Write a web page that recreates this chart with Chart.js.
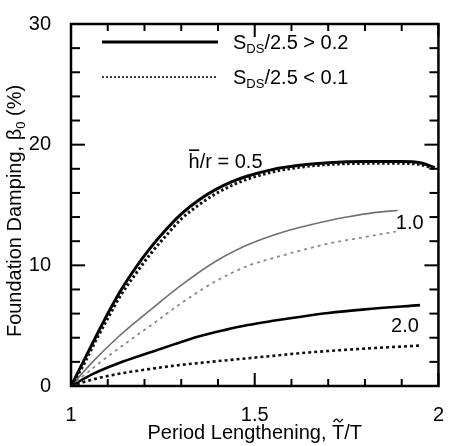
<!DOCTYPE html>
<html>
<head>
<meta charset="utf-8">
<script src="https://cdn.jsdelivr.net/npm/chart.js@4.4.1/dist/chart.umd.min.js"></script>
<style>
  html, body { margin: 0; background: #fff; }
  #wrap { width: 453px; height: 446px; position: relative; }
</style>
</head>
<body>
<div id="wrap"><canvas id="graphe"></canvas></div>
<script>
/* ── Données ────────────────────────────────────────────── */
const X_05_FORT  = [1, 1.035, 1.068, 1.10, 1.135, 1.176, 1.215, 1.257, 1.302, 1.35, 1.392, 1.44, 1.481, 1.55, 1.616, 1.7, 1.8, 1.9, 1.95, 1.99];
const Y_05_FORT  = [0, 2.1, 4.1, 6.0, 7.9, 9.8, 11.4, 12.9, 14.3, 15.45, 16.25, 16.95, 17.4, 17.95, 18.27, 18.5, 18.6, 18.6, 18.5, 18.1];
const X_05_FAIB  = X_05_FORT;
const Y_05_FAIB  = [0, 1.8, 3.8, 5.6, 7.5, 9.3, 10.9, 12.4, 13.9, 15.05, 15.9, 16.65, 17.15, 17.75, 18.1, 18.35, 18.45, 18.45, 18.35, 18.0];

const X_10_FORT  = [1, 1.059, 1.126, 1.212, 1.302, 1.392, 1.481, 1.55, 1.616, 1.7, 1.75, 1.82, 1.889];
const Y_10_FORT  = [0, 2, 4, 6.2, 8.4, 10.3, 11.7, 12.5, 13.1, 13.7, 14.0, 14.35, 14.55];
const X_10_FAIB  = [1, 1.081, 1.17, 1.212, 1.302, 1.392, 1.481, 1.55, 1.616, 1.7, 1.8, 1.884];
const Y_10_FAIB  = [0, 2, 4, 4.9, 6.9, 8.65, 9.95, 10.6, 11.15, 11.8, 12.35, 12.8];

const X_20_FORT  = [1, 1.06, 1.131, 1.212, 1.28, 1.347, 1.42, 1.481, 1.55, 1.616, 1.7, 1.8, 1.95];
const Y_20_FORT  = [0, 1.0, 1.9, 2.75, 3.45, 4.1, 4.65, 5.05, 5.4, 5.7, 6.05, 6.35, 6.7];
const X_20_FAIB  = [1, 1.06, 1.12, 1.212, 1.3, 1.38, 1.481, 1.55, 1.616, 1.7, 1.8, 1.95];
const Y_20_FAIB  = [0, 0.55, 0.95, 1.4, 1.75, 2.0, 2.3, 2.5, 2.7, 2.9, 3.1, 3.35];

/* ── Axes ───────────────────────────────────────────────── */
const X_MIN = 1, X_MAX = 2, X_PAS = 0.1;
const Y_MIN = 0, Y_MAX = 30, Y_PAS = 2;
const X_ETIQUETTES = [1, 1.5, 2];
const Y_ETIQUETTES = [0, 10, 20, 30];

/* ── Textes ─────────────────────────────────────────────── */
const TITRE_X = ['Period Lengthening, ', 'T', '/T'];
const TITRE_Y = ['Foundation Damping, β', '0', ' (%)'];
const LEGENDE = [
  { base: 'S', indice: 'DS', reste: '/2.5 > 0.2', pointille: false },
  { base: 'S', indice: 'DS', reste: '/2.5 < 0.1', pointille: true  },
];
/* étiquettes des courbes : texte, position (unités du graphe) */
const COURBES_TXT = ['h', '/r = 0.5', '1.0', '2.0'];
const COURBES_POS = [[1.32, 18.05], [1.884, 13.0], [1.871, 4.5]];

const POLICE = "'Liberation Sans', Arial, Helvetica, sans-serif";
Chart.defaults.font.family = POLICE;
Chart.defaults.color = '#000';

const pts = (xs, ys) => xs.map((x, i) => ({ x, y: ys[i] }));
const estEtiquette = (v, liste) => liste.some(e => Math.abs(e - v) < 1e-6);

function serie(xs, ys, couleur, epaisseur, tirets) {
  return {
    data: pts(xs, ys),
    borderColor: couleur,
    borderWidth: epaisseur,
    borderDash: tirets,
    pointRadius: 0,
    fill: false,
    cubicInterpolationMode: 'monotone',
  };
}

/* texte composé (indices), aligné au centre ou à gauche */
function texteRiche(ctx, morceaux, x, y, align) {
  const tailles = morceaux.map(m => { ctx.font = `${m.taille}px ${POLICE}`; return ctx.measureText(m.t).width; });
  const total = tailles.reduce((a, b) => a + b, 0);
  let cx = align === 'center' ? x - total / 2 : x;
  const pos = [];
  morceaux.forEach((m, i) => {
    ctx.font = `${m.taille}px ${POLICE}`;
    ctx.fillText(m.t, cx, y + (m.dy || 0));
    pos.push(cx);
    cx += tailles[i];
  });
  return { pos, tailles };
}

const decor = {
  id: 'decor',
  afterDraw(chart) {
    const { ctx, chartArea: a, scales: { x, y } } = chart;
    ctx.save();
    ctx.strokeStyle = '#000';
    ctx.fillStyle = '#000';
    ctx.textBaseline = 'alphabetic';
    ctx.textAlign = 'left';

    const trait = (x1, y1, x2, y2) => { ctx.beginPath(); ctx.moveTo(x1, y1); ctx.lineTo(x2, y2); ctx.stroke(); };

    /* graduations intérieures, sur les quatre côtés */
    ctx.lineWidth = 2;
    x.ticks.forEach(t => {
      const px = x.getPixelForValue(t.value);
      const l = estEtiquette(t.value, X_ETIQUETTES) ? 13 : 7;
      trait(px, a.bottom, px, a.bottom - l);
      trait(px, a.top, px, a.top + l);
    });
    y.ticks.forEach(t => {
      const py = y.getPixelForValue(t.value);
      const l = estEtiquette(t.value, Y_ETIQUETTES) ? 14 : 9;
      trait(a.left, py, a.left + l, py);
      trait(a.right, py, a.right - l, py);
    });

    /* cadre */
    ctx.lineWidth = 2.5;
    ctx.strokeRect(a.left, a.top, a.right - a.left, a.bottom - a.top);

    /* légende */
    LEGENDE.forEach((lg, i) => {
      const ly = 42 + i * 35;
      ctx.lineWidth = lg.pointille ? 1.5 : 3;
      ctx.setLineDash(lg.pointille ? [2, 2] : []);
      trait(102, ly, 218, ly);
      ctx.setLineDash([]);
      texteRiche(ctx, [
        { t: lg.base, taille: 20 },
        { t: lg.indice, taille: 13, dy: 4 },
        { t: lg.reste, taille: 20 },
      ], 233, ly + 7, 'left');
    });

    /* étiquettes des courbes */
    ctx.font = `20px ${POLICE}`;
    const [p05, p10, p20] = COURBES_POS.map(([vx, vy]) => [x.getPixelForValue(vx), y.getPixelForValue(vy)]);
    ctx.fillText(COURBES_TXT[0], p05[0], p05[1]);
    const lh = ctx.measureText(COURBES_TXT[0]).width;
    ctx.lineWidth = 1.6;
    trait(p05[0] + 0.5, p05[1] - 18, p05[0] + lh - 0.5, p05[1] - 18);
    ctx.fillText(COURBES_TXT[1], p05[0] + lh, p05[1]);
    ctx.fillText(COURBES_TXT[2], p10[0], p10[1]);
    ctx.fillText(COURBES_TXT[3], p20[0], p20[1]);

    /* titre axe X, avec tilde sur T */
    const cxT = (a.left + a.right) / 2;
    const r = texteRiche(ctx, TITRE_X.map(t => ({ t, taille: 20 })), cxT, 439, 'center');
    const tx = r.pos[1] + r.tailles[1] / 2;
    ctx.lineWidth = 1.4;
    ctx.beginPath();
    ctx.moveTo(tx - 4.5, 422);
    ctx.bezierCurveTo(tx - 2.5, 418.5, tx - 1, 418.5, tx, 420.5);
    ctx.bezierCurveTo(tx + 1, 422.5, tx + 2.5, 422.5, tx + 4.5, 419);
    ctx.stroke();

    /* titre axe Y */
    ctx.save();
    ctx.translate(21, (a.top + a.bottom) / 2 + 6);
    ctx.rotate(-Math.PI / 2);
    texteRiche(ctx, [
      { t: TITRE_Y[0], taille: 20 },
      { t: TITRE_Y[1], taille: 13, dy: 4 },
      { t: TITRE_Y[2], taille: 20 },
    ], 0, 0, 'center');
    ctx.restore();

    ctx.restore();
  },
};

new Chart(document.getElementById('graphe'), {
  type: 'line',
  data: {
    datasets: [
      serie(X_05_FAIB, Y_05_FAIB, '#111', 3, [2.5, 2.5]),
      serie(X_05_FORT, Y_05_FORT, '#000', 3, []),
      serie(X_10_FORT, Y_10_FORT, '#707070', 1.6, []),
      serie(X_10_FAIB, Y_10_FAIB, '#8a8a8a', 1.8, [3, 4]),
      serie(X_20_FORT, Y_20_FORT, '#000', 2.6, []),
      serie(X_20_FAIB, Y_20_FAIB, '#111', 2.6, [3, 3]),
    ],
  },
  options: {
    responsive: true,
    maintainAspectRatio: false,
    animation: false,
    layout: { padding: { top: 15, right: 10, left: 0, bottom: 0 } },
    plugins: { legend: { display: false }, tooltip: { enabled: false } },
    scales: {
      x: {
        type: 'linear',
        min: X_MIN, max: X_MAX,
        grid: { display: false },
        border: { display: false },
        ticks: {
          stepSize: X_PAS,
          autoSkip: false,
          maxRotation: 0,
          padding: 9,
          font: { size: 20 },
          callback: v => estEtiquette(v, X_ETIQUETTES) ? String(+v.toFixed(1)) : '',
        },
        afterFit: s => { s.height = 60; },
      },
      y: {
        min: Y_MIN, max: Y_MAX,
        grid: { display: false },
        border: { display: false },
        ticks: {
          stepSize: Y_PAS,
          autoSkip: false,
          padding: 12,
          font: { size: 20 },
          callback: v => estEtiquette(v, Y_ETIQUETTES) ? String(v) : '',
        },
        afterFit: s => { s.width = 71; },
      },
    },
  },
  plugins: [decor],
});
</script>
</body>
</html>
